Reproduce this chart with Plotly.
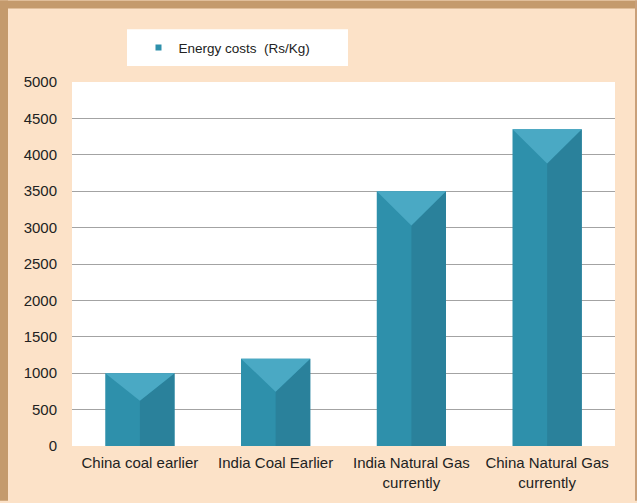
import plotly.graph_objects as go

categories = ["China coal earlier", "India Coal Earlier", "India Natural Gas<br>currently", "China Natural Gas<br>currently"]
values = [1000, 1200, 3500, 4350]
series_name = "Energy costs  (Rs/Kg)"
y_ticks = [0, 500, 1000, 1500, 2000, 2500, 3000, 3500, 4000, 4500, 5000]

W, H = 637, 503
ML, MR, MT, MB = 72, 22, 82, 55
PW, PH = W - ML - MR, H - MT - MB

def px_x(p):
    return (p - ML) / PW

def px_y(p):
    return (H - MB - p) / PH

BAR_W = 0.51
C_MAIN = "#2e90ab"
C_DARK = "#2a819b"
C_TOP = "#4aa9c4"

fig = go.Figure()
xs = list(range(len(categories)))
fig.add_trace(go.Bar(x=xs, y=values, width=BAR_W, marker=dict(color=C_MAIN, line=dict(width=0)),
                     showlegend=False, hoverinfo="y"))

for x, v in zip(xs, values):
    d = min(470, 0.38 * v)
    h = BAR_W / 2
    fig.add_trace(go.Scatter(x=[x, x, x + h, x + h, x], y=[0, v - d, v, 0, 0], fill="toself",
                             fillcolor=C_DARK, mode="lines", line=dict(width=0), showlegend=False, hoverinfo="skip"))
    fig.add_trace(go.Scatter(x=[x - h, x + h, x, x - h], y=[v, v, v - d, v], fill="toself",
                             fillcolor=C_TOP, mode="lines", line=dict(width=0), showlegend=False, hoverinfo="skip"))

fig.add_trace(go.Scatter(x=[None], y=[None], mode="markers", name=series_name,
                         marker=dict(symbol="square", size=6, color=C_MAIN)))

shapes = [
    dict(type="rect", xref="paper", yref="paper", x0=px_x(0), x1=px_x(W), y0=px_y(0), y1=px_y(8),
         fillcolor="#c49a6c", line=dict(width=0), layer="below"),
    dict(type="rect", xref="paper", yref="paper", x0=px_x(0), x1=px_x(8), y0=px_y(0), y1=px_y(H),
         fillcolor="#c49a6c", line=dict(width=0), layer="below"),
    dict(type="rect", xref="paper", yref="paper", x0=px_x(635), x1=px_x(W), y0=px_y(0), y1=px_y(H),
         fillcolor="#c9a07a", line=dict(width=0), layer="below"),
    dict(type="rect", xref="paper", yref="paper", x0=px_x(127), x1=px_x(348), y0=px_y(29), y1=px_y(66),
         fillcolor="white", line=dict(width=0), layer="below"),
]

fig.update_layout(
    width=W, height=H,
    margin=dict(l=ML, r=MR, t=MT, b=MB, pad=0),
    paper_bgcolor="#fce2c8",
    plot_bgcolor="white",
    font=dict(family="Liberation Sans, Arial, sans-serif", size=15, color="#222222"),
    shapes=shapes,
    showlegend=True,
    legend=dict(x=px_x(227), y=px_y(47.5), xanchor="center", yanchor="middle",
                bgcolor="rgba(0,0,0,0)", font=dict(size=13.5, color="#222222")),
    xaxis=dict(range=[-0.5, 3.5], tickvals=xs, ticktext=categories, showgrid=False,
               zeroline=False, showline=False, ticks="", ticklabelstandoff=6),
    yaxis=dict(range=[0, 5000], tickvals=y_ticks, showgrid=True, gridcolor="#a3a3a3", gridwidth=1,
               zeroline=False, showline=False, ticks="", ticklabelstandoff=14),
    bargap=0.49,
)

fig.write_html("out.html", config={"displayModeBar": False},
               post_script="document.body.style.margin='0px';document.body.style.overflow='hidden';")
